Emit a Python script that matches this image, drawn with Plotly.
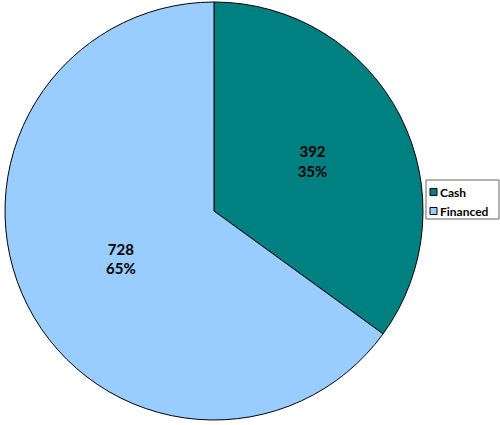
import plotly.graph_objects as go

labels = ["Cash", "Financed"]
values = [392, 728]
colors = ["#008080", "#99CCFF"]

W, H = 500, 425

fig = go.Figure(go.Pie(
    labels=labels,
    values=values,
    marker=dict(colors=colors, line=dict(color="#000000", width=1)),
    sort=False,
    direction="clockwise",
    rotation=0,
    texttemplate="<b>%{value}</b><br><b>%{percent:.0%}</b>",
    textposition="inside",
    insidetextorientation="horizontal",
    textfont=dict(family="Lato, sans-serif", size=15, color="#000000"),
    domain=dict(x=[5 / W, 423 / W], y=[4 / H, 424 / H]),
    hoverinfo="label+value+percent",
    showlegend=False,
))


def px(x):
    return x / W


def py(y):
    return 1 - y / H


# legend drawn as box + swatches + labels (keys taken from the data lists)
shapes = [dict(type="rect", xref="paper", yref="paper",
               x0=px(426), x1=px(499), y0=py(219), y1=py(180),
               line=dict(color="#666666", width=1), fillcolor="white", layer="above")]
annotations = []
row_y = [192, 211]
for lab, col, ry in zip(labels, colors, row_y):
    shapes.append(dict(type="rect", xref="paper", yref="paper",
                       x0=px(430), x1=px(437), y0=py(ry + 3.5), y1=py(ry - 3.5),
                       line=dict(color="#000000", width=1), fillcolor=col, layer="above"))
    annotations.append(dict(xref="paper", yref="paper", x=px(438), y=py(ry),
                            xanchor="left", yanchor="middle", showarrow=False,
                            text="<b>" + lab + "</b>",
                            font=dict(family="Lato, sans-serif", size=12, color="#000000")))

fig.update_layout(
    width=W, height=H,
    margin=dict(l=0, r=0, t=0, b=0, autoexpand=False),
    paper_bgcolor="white",
    plot_bgcolor="white",
    showlegend=False,
    shapes=shapes,
    annotations=annotations,
)

fig.write_html("out.html", config={"displayModeBar": False},
               post_script="document.body.style.margin='0px';")
